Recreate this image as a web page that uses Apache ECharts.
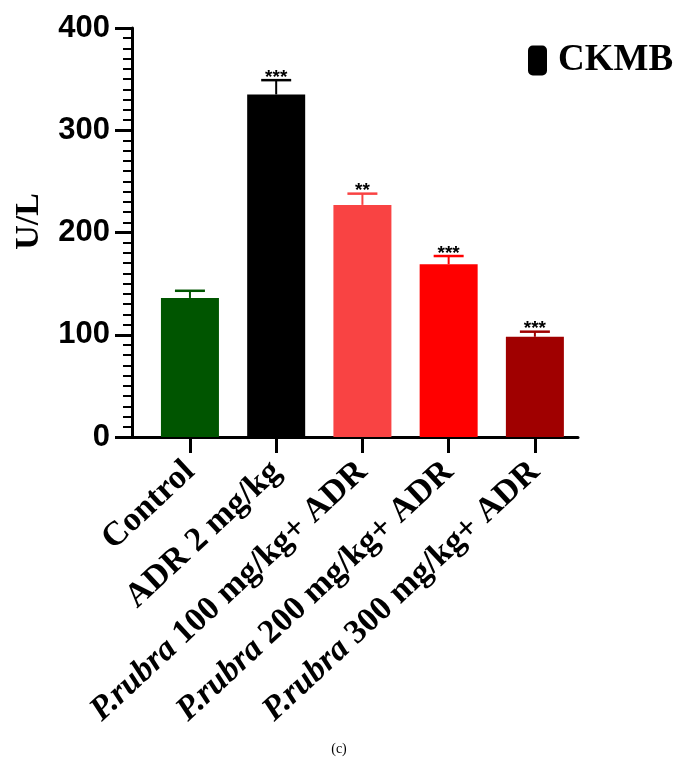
<!DOCTYPE html>
<html>
<head>
<meta charset="utf-8">
<script src="https://cdn.jsdelivr.net/npm/echarts@6/dist/echarts.min.js"></script>
<style>html,body{margin:0;padding:0;background:#fff;}#c{width:678px;height:758px;}</style>
</head>
<body>
<div id="c"></div>
<script>
const categories = ['Control', 'ADR 2 mg/kg', 'P.rubra 100 mg/kg+ ADR', 'P.rubra 200 mg/kg+ ADR', 'P.rubra 300 mg/kg+ ADR'];
const means = [136, 335, 227, 169, 98];
const errors = [7, 14, 11, 8, 5];
const stars = ['', '***', '**', '***', '***'];
const colors = ['#005500', '#000000', '#f94343', '#ff0000', '#a00000'];
const yTicks = [0, 100, 200, 300, 400];
const seriesName = 'CKMB';

const chart = echarts.init(document.getElementById('c'), null, {renderer: 'canvas'});
const idx = categories.map((_, i) => i);

function fmtCat(v) {
  const name = categories[Math.round(v)];
  if (name === undefined) return '';
  if (name.startsWith('P.rubra')) {
    return '{i|P.rubra}{b|' + name.slice(7) + '}';
  }
  return '{b|' + name + '}';
}

chart.setOption({
  animation: false,
  backgroundColor: '#fff',
  grid: {left: 132, right: 100, top: 28, bottom: 321, containLabel: false},
  title: {
    text: '(c)', left: 'center', top: 737,
    textStyle: {fontFamily: 'Liberation Serif', fontSize: 14, fontWeight: 'normal', color: '#000'}
  },
  legend: {
    data: [seriesName], left: 523, top: 37, icon: 'roundRect',
    itemWidth: 19, itemHeight: 30, itemGap: 0,
    textStyle: {fontFamily: 'Liberation Serif', fontSize: 37, fontWeight: 'bold', color: '#000', padding: [0,0,0,6]}
  },
  xAxis: {
    type: 'value', min: -0.672, max: 4.5,
    splitLine: {show: false},
    axisLine: {show: true, onZero: false, lineStyle: {color: '#000', width: 3}},
    axisTick: {show: true, customValues: idx, length: 16, lineStyle: {color: '#000', width: 3}},
    axisLabel: {
      show: true, customValues: idx, rotate: 43, margin: 30, formatter: fmtCat,
      rich: {
        b: {fontFamily: 'Liberation Serif', fontSize: 34, fontWeight: 'bold', color: '#000'},
        i: {fontFamily: 'Liberation Serif', fontSize: 34, fontWeight: 'bold', fontStyle: 'italic', color: '#000'}
      }
    }
  },
  yAxis: {
    type: 'value', min: 0, max: 400, interval: 100,
    name: 'U/L', nameLocation: 'middle', nameGap: 86, nameRotate: 90,
    nameTextStyle: {fontFamily: 'Liberation Serif', fontSize: 34, fontWeight: 'bold', color: '#000', padding: [0,0,0,22]},
    splitLine: {show: false},
    axisLine: {show: true, onZero: false, lineStyle: {color: '#000', width: 3}},
    axisTick: {show: true, length: 17, lineStyle: {color: '#000', width: 3}},
    minorTick: {show: true, splitNumber: 10, length: 9, lineStyle: {color: '#000', width: 2}},
    axisLabel: {
      margin: 22, fontFamily: 'Liberation Sans', fontSize: 31, fontWeight: 'bold', color: '#000',
      customValues: yTicks
    }
  },
  series: [
    {
      name: seriesName, type: 'bar', barWidth: 58,
      itemStyle: {color: '#000'},
      data: means.map((m, i) => ({value: [i, m], itemStyle: {color: colors[i]}}))
    },
    {
      name: 'err', type: 'custom', z: 3,
      data: means.map((m, i) => [i, m, m + errors[i], i]),
      renderItem: function (params, api) {
        const i = api.value(3);
        const base = api.coord([api.value(0), api.value(1)]);
        const top = api.coord([api.value(0), api.value(2)]);
        const col = colors[i];
        const half = 15;
        const children = [
          {type: 'line', shape: {x1: base[0], y1: base[1], x2: top[0], y2: top[1]}, style: {stroke: col, lineWidth: 2}},
          {type: 'line', shape: {x1: top[0] - half, y1: top[1], x2: top[0] + half, y2: top[1]}, style: {stroke: col, lineWidth: 2.5}}
        ];
        if (stars[i]) {
          children.push({type: 'text', style: {text: stars[i], x: top[0], y: top[1] + 7, align: 'center', verticalAlign: 'bottom',
            font: 'bold 19px "Liberation Sans"', fill: '#000'}});
        }
        return {type: 'group', children: children};
      }
    }
  ]
});
</script>
</body>
</html>
